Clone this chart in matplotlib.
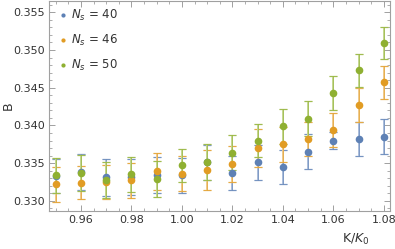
import matplotlib
matplotlib.use("Agg")
import matplotlib.pyplot as plt
from matplotlib.ticker import MultipleLocator, FormatStrFormatter

# --- data ---
k_ratio = [0.95, 0.96, 0.97, 0.98, 0.99, 1.00, 1.01, 1.02, 1.03, 1.04, 1.05, 1.06, 1.07, 1.08]

b_ns40 = [0.3333, 0.3338, 0.3331, 0.3332, 0.3334, 0.3334, 0.3351, 0.3337, 0.3351, 0.3345,
          0.3365, 0.3380, 0.3382, 0.3385]
err_ns40 = [0.0023, 0.0024, 0.0024, 0.0024, 0.0024, 0.0023, 0.0023, 0.0023, 0.0023, 0.0023,
            0.0023, 0.0011, 0.0023, 0.0023]

b_ns46 = [0.3322, 0.3324, 0.3325, 0.3327, 0.3339, 0.3336, 0.3341, 0.3349, 0.3370, 0.3375,
          0.3382, 0.3394, 0.3427, 0.3457]
err_ns46 = [0.0023, 0.0022, 0.0022, 0.0023, 0.0024, 0.0023, 0.0026, 0.0024, 0.0025, 0.0023,
            0.0023, 0.0022, 0.0023, 0.0022]

b_ns50 = [0.3334, 0.3337, 0.3328, 0.3335, 0.3329, 0.3347, 0.3351, 0.3364, 0.3380, 0.3399,
          0.3409, 0.3443, 0.3473, 0.3509]
err_ns50 = [0.0023, 0.0024, 0.0024, 0.0023, 0.0024, 0.0022, 0.0024, 0.0023, 0.0022, 0.0023,
            0.0023, 0.0022, 0.0022, 0.0021]

series = [
    (r"$N_s$ = 40", b_ns40, err_ns40, "#5E81B5", "#A9BCDA"),
    (r"$N_s$ = 46", b_ns46, err_ns46, "#E19C24", "#EFC98A"),
    (r"$N_s$ = 50", b_ns50, err_ns50, "#8FB032", "#C4D68E"),
]

plt.rcParams['font.family'] = 'DejaVu Sans'

fig = plt.figure(figsize=(3.95, 2.49), dpi=100)
ax = fig.add_axes([0.124, 0.154, 0.863, 0.842])

for label, vals, errs, color, light in series:
    # light wide bar underneath, thin darker bar on top (Mathematica look)
    ax.errorbar(k_ratio, vals, yerr=errs, fmt='none', ecolor=light, elinewidth=1.4,
                capsize=3, capthick=1.0, zorder=2)
    ax.errorbar(k_ratio, vals, yerr=errs, fmt='none', ecolor=color, elinewidth=0.5,
                capsize=3, capthick=0.6, alpha=0.8, zorder=2)
    ax.plot(k_ratio, vals, 'o', color=color, markersize=5.5, markeredgewidth=0,
            label=label, zorder=3)

ax.set_xlim(0.9473, 1.0824)
ax.set_ylim(0.3287, 0.3565)

ax.xaxis.set_major_locator(MultipleLocator(0.02))
ax.xaxis.set_minor_locator(MultipleLocator(0.005))
ax.yaxis.set_major_locator(MultipleLocator(0.005))
ax.yaxis.set_minor_locator(MultipleLocator(0.001))
ax.xaxis.set_major_formatter(FormatStrFormatter('%.2f'))
ax.yaxis.set_major_formatter(FormatStrFormatter('%.3f'))

frame_col = '#A0A0A0'
for sp in ax.spines.values():
    sp.set_color(frame_col)
    sp.set_linewidth(0.8)
ax.tick_params(which='both', direction='in', top=True, right=True, color=frame_col,
               labelcolor='#333333', labelsize=8, pad=3)
ax.tick_params(which='major', length=4, width=0.7)
ax.tick_params(which='minor', length=2, width=0.6)

ax.set_ylabel("B", fontsize=9, color='#333333')
ax.yaxis.set_label_coords(-0.10, 0.5)
ax.set_xlabel(r"K/$K_0$", fontsize=9, color='#333333')
ax.xaxis.set_label_coords(0.9, -0.1)

leg = ax.legend(loc='upper left', frameon=False, fontsize=8.5, markerscale=0.55,
                handletextpad=0.2, labelspacing=0.85, borderaxespad=0.2,
                handlelength=1.1, bbox_to_anchor=(0.0, 1.0))
for t in leg.get_texts():
    t.set_color('#333333')

fig.savefig("out.png", dpi=100)
